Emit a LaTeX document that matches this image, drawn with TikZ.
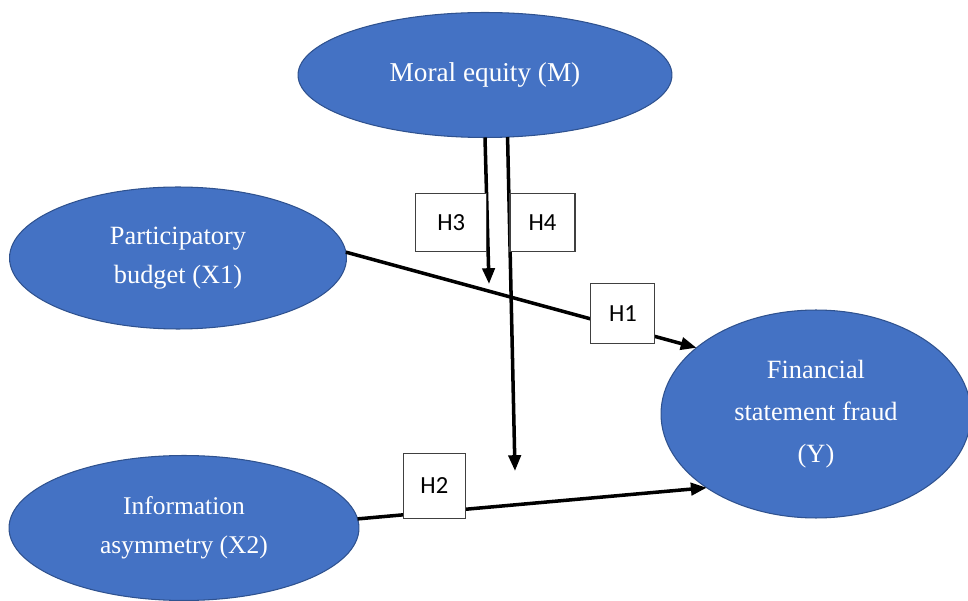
\documentclass[tikz,border=0pt]{standalone}
\usepackage{fontspec}
\setmainfont{Liberation Serif}
\newfontfamily\hypfont{Carlito}
\usetikzlibrary{shapes.geometric,arrows.meta}

\definecolor{varblue}{HTML}{4472C4}
\definecolor{varedge}{HTML}{2F528F}

\begin{document}
\begin{tikzpicture}[x=0.02cm, y=-0.02cm]

        \useasboundingbox (0,0) rectangle (968,601);

        \begin{scope}[every node/.style={ellipse, draw=varedge, fill=varblue, text=white,
            line width=0.6pt, outer sep=0pt, align=center,
            font=\fontsize{15}{22}\selectfont}]
          \node[minimum width=7.48cm, minimum height=2.5cm,
                font=\fontsize{15.5}{18}\selectfont] (M) at (485,75) {Moral equity (M)};
          \node[minimum width=6.74cm, minimum height=2.84cm] (X1) at (178,258) {Participatory\\budget (X1)};
          \node[minimum width=7.0cm, minimum height=2.9cm,
                font=\fontsize{14.5}{22.5}\selectfont] (X2) at (184,528) {Information\\asymmetry (X2)};
          \node[minimum width=6.2cm, minimum height=4.16cm,
                font=\fontsize{15}{24}\selectfont] (Y) at (816,414) {Financial\\statement fraud\\(Y)};
        \end{scope}

        \coordinate (h3end) at (489,284);
        \coordinate (h4end) at (515,471);

        \begin{scope}[every node/.style={draw=black!75, fill=white, line width=0.6pt,
            inner sep=0pt, minimum width=1.3cm, minimum height=1.16cm,
            font=\hypfont\fontsize{14}{16}\selectfont}]

          \begin{scope}[every edge/.style={draw, line width=2pt,
              -{Triangle[length=9pt, width=7pt]}}]
            \path (X1.2)    edge node[pos=.79, yshift=8pt, minimum width=1.28cm, minimum height=1.2cm] {H1} (Y.151);
            \path (X2.3)    edge node[pos=.22, yshift=15pt, minimum width=1.24cm, minimum height=1.3cm] {H2} (Y.214);
            \path (M.south) edge node[pos=.58, anchor=east, minimum width=1.42cm] {H3} (h3end);
            \path (M.290)   edge node[pos=.256, anchor=west] {H4} (h4end);
          \end{scope}
        \end{scope}

      \end{tikzpicture}
\end{document}
